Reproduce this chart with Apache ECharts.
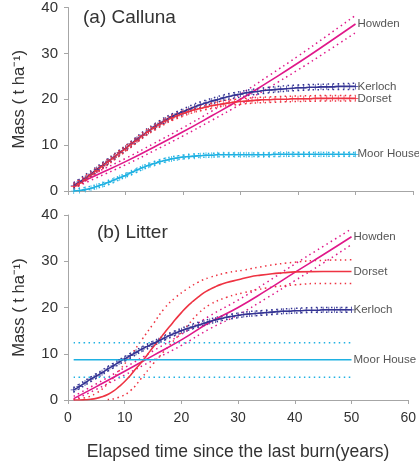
<!DOCTYPE html>
<html>
<head>
<meta charset="utf-8">
<script src="https://cdn.jsdelivr.net/npm/echarts@6/dist/echarts.min.js"></script>
<style>
  html, body { margin: 0; padding: 0; background: #fff; }
  #chart { width: 419px; height: 467px; }
</style>
</head>
<body>
<div id="chart"></div>
<script>
// 年份 (每年一個點, 用於有 + 標記的曲線)
const years = Array.from({ length: 50 }, (_, i) => i + 1);
// 稀疏年份 (信賴區間 / 直線)
const years5 = [1, 5, 10, 15, 20, 25, 30, 35, 40, 45, 50];

// ---- (a) Calluna ----
const callunaKerloch = [1.2, 2.0, 2.8, 3.7, 4.7, 5.6, 6.5, 7.4, 8.4, 9.3,
  10.3, 11.3, 12.2, 13.1, 14.0, 14.8, 15.5, 16.2, 16.8, 17.3,
  17.8, 18.3, 18.8, 19.2, 19.6, 19.9, 20.3, 20.6, 20.9, 21.1,
  21.4, 21.6, 21.7, 21.9, 22.0, 22.1, 22.2, 22.3, 22.4, 22.5,
  22.5, 22.6, 22.6, 22.7, 22.7, 22.7, 22.8, 22.8, 22.8, 22.8];
const callunaDorset = [1.0, 1.7, 2.6, 3.5, 4.5, 5.4, 6.4, 7.3, 8.3, 9.2,
  10.2, 11.1, 12.1, 13.0, 13.8, 14.6, 15.3, 15.9, 16.4, 16.9,
  17.3, 17.7, 18.0, 18.3, 18.6, 18.8, 19.0, 19.2, 19.4, 19.5,
  19.6, 19.7, 19.8, 19.9, 19.9, 20.0, 20.0, 20.0, 20.1, 20.1,
  20.1, 20.1, 20.2, 20.2, 20.2, 20.2, 20.2, 20.2, 20.2, 20.2];
const callunaMoor = [0.0, 0.1, 0.3, 0.6, 1.0, 1.4, 1.9, 2.4, 2.9, 3.4,
  4.0, 4.6, 5.1, 5.6, 6.0, 6.4, 6.7, 7.0, 7.2, 7.4,
  7.5, 7.6, 7.7, 7.8, 7.8, 7.9, 7.9, 7.9, 7.9, 7.9,
  7.9, 7.9, 7.9, 7.9, 7.9, 8.0, 8.0, 8.0, 8.0, 8.0,
  8.0, 8.0, 8.0, 8.0, 8.0, 8.0, 8.0, 8.0, 8.0, 8.0];
const callunaHowden = [1.2, 3.5, 6.4, 9.6, 12.9, 16.4, 20.0, 23.9, 27.9, 32.1, 36.4];
const callunaHowdenUp = [1.8, 4.1, 7.1, 10.4, 13.8, 17.4, 21.1, 25.2, 29.4, 33.8, 38.3];
const callunaHowdenLo = [0.6, 2.9, 5.7, 8.8, 12.0, 15.4, 18.9, 22.6, 26.4, 30.4, 34.5];
const callunaKerlochUp = [1.8, 5.3, 9.9, 14.6, 17.9, 20.2, 21.7, 22.6, 23.1, 23.3, 23.5];
const callunaKerlochLo = [0.6, 4.1, 8.7, 13.4, 16.7, 19.0, 20.5, 21.4, 21.9, 22.1, 22.1];
const callunaDorsetUp = [1.6, 5.1, 9.8, 14.4, 17.5, 19.2, 20.1, 20.5, 20.7, 20.8, 20.8];
const callunaDorsetLo = [0.4, 3.9, 8.6, 13.2, 16.3, 18.0, 18.9, 19.3, 19.5, 19.6, 19.6];
const callunaMoorUp = [0.4, 1.4, 3.8, 6.4, 7.8, 8.2, 8.3, 8.3, 8.4, 8.4, 8.4];
const callunaMoorLo = [0.0, 0.6, 3.0, 5.6, 7.0, 7.4, 7.5, 7.5, 7.6, 7.6, 7.6];

// ---- (b) Litter ----
const litterKerloch = [2.2, 2.9, 3.7, 4.5, 5.2, 5.9, 6.7, 7.4, 8.2, 8.9,
  9.6, 10.3, 11.0, 11.6, 12.2, 12.8, 13.4, 14.0, 14.5, 15.0,
  15.4, 15.8, 16.2, 16.6, 17.0, 17.3, 17.6, 17.9, 18.1, 18.3,
  18.5, 18.6, 18.7, 18.8, 18.9, 19.0, 19.1, 19.2, 19.2, 19.3,
  19.3, 19.4, 19.4, 19.4, 19.5, 19.5, 19.5, 19.5, 19.5, 19.5];
const litterKerlochUp = [2.7, 5.7, 9.4, 12.7, 15.5, 17.5, 18.8, 19.4, 19.8, 20.0, 20.0];
const litterKerlochLo = [1.7, 4.7, 8.4, 11.7, 14.5, 16.5, 17.8, 18.4, 18.8, 19.0, 19.0];
const litterHowden = [0.3, 2.9, 6.2, 9.6, 13.0, 16.8, 20.0, 23.7, 27.6, 31.4, 35.3];
const litterHowdenUp = [0.8, 3.5, 7.0, 10.6, 14.2, 18.2, 21.6, 25.4, 29.4, 33.2, 37.0];
const litterHowdenLo = [0.0, 2.3, 5.4, 8.6, 11.8, 15.4, 18.4, 22.0, 25.8, 29.6, 33.6];
const litterDorsetX = [1, 2, 3, 4, 5, 6, 7, 8, 9, 10, 11, 12, 13, 14, 15, 16, 17, 18, 19, 20,
  21, 22, 23, 24, 25, 26, 27, 28, 30, 32, 34, 36, 38, 40, 45, 50];
const litterDorset = [0.0, 0.0, 0.05, 0.15, 0.35, 0.7, 1.2, 1.9, 2.9, 4.0, 5.3, 6.8, 8.2, 9.8, 11.4,
  12.9, 14.5, 16.0, 17.5, 18.9, 20.2, 21.3, 22.3, 23.2, 23.9, 24.5, 25.0, 25.4,
  26.0, 26.6, 27.0, 27.3, 27.5, 27.7, 27.8, 27.8];
const litterDorsetUpX = [1, 3, 5, 7, 9, 11, 13, 15, 17, 19, 21, 23, 25, 28, 31, 35, 40, 45, 50];
const litterDorsetUp = [0.2, 0.5, 1.5, 3.5, 6.3, 9.5, 13.0, 16.4, 19.8, 22.2, 24.0, 25.5, 26.5,
  27.5, 28.1, 29.0, 29.8, 30.2, 30.3];
const litterDorsetLoX = [7, 9, 11, 13, 15, 17, 19, 21, 23, 25, 28, 31, 35, 40, 45, 50];
const litterDorsetLo = [0.1, 0.6, 2.0, 4.8, 7.8, 10.6, 13.3, 16.0, 18.7, 20.6, 22.2, 23.2, 24.2,
  24.9, 25.2, 25.2];
const litterMoorX = [1, 50];
const litterMoor = [8.7, 8.7];
const litterMoorUp = [12.4, 12.4];
const litterMoorLo = [4.9, 4.9];

const C_HOWDEN = '#e0188a';
const C_KERLOCH = '#343494';
const C_DORSET = '#ee3342';
const C_MOOR = '#1fb1e2';
const FONT = 'Liberation Sans';
const PLUS = 'path://M-0.12,-1 L0.12,-1 L0.12,-0.12 L1,-0.12 L1,0.12 L0.12,0.12 L0.12,1 L-0.12,1 L-0.12,0.12 L-1,0.12 L-1,-0.12 L-0.12,-0.12 Z';

function pairs(xs, ys) {
  return xs.map((x, i) => [x, ys[i]]);
}

// 主曲線 (含末端標籤)
function mainLine(idx, name, xs, ys, color, marks) {
  return {
    type: 'line', name: name, xAxisIndex: idx, yAxisIndex: idx,
    data: pairs(xs, ys), smooth: true, z: 4,
    showSymbol: !!marks, symbol: PLUS, symbolSize: 6,
    itemStyle: { color: color },
    lineStyle: { color: color, width: 1.6 },
    endLabel: {
      show: true, formatter: '{a}', color: '#555',
      fontFamily: FONT, fontSize: 11.5, distance: 2
    }
  };
}

// 信賴區間虛線
function ciLine(idx, xs, ys, color) {
  return {
    type: 'line', xAxisIndex: idx, yAxisIndex: idx,
    data: pairs(xs, ys), smooth: true, showSymbol: false, z: 3,
    lineStyle: { color: color, width: 1.5, type: [1.5, 3.5] }
  };
}

const axisGrey = '#a6a6a6';
function xAx(idx, labels) {
  return {
    gridIndex: idx, type: 'value', min: 0, max: 60, interval: 10,
    axisLine: { show: true, onZero: false, lineStyle: { color: axisGrey, width: 1 } },
    axisTick: { show: true, length: 4, lineStyle: { color: axisGrey } },
    splitLine: { show: false },
    axisLabel: { show: labels, color: '#333', fontFamily: FONT, fontSize: 14, margin: 11 },
    name: labels ? 'Elapsed time since the last burn(years)' : '',
    nameLocation: 'middle', nameGap: 43,
    nameTextStyle: { color: '#333', fontFamily: FONT, fontSize: 17.5 }
  };
}
function yAx(idx) {
  return {
    gridIndex: idx, type: 'value', min: 0, max: 40, interval: 10,
    axisLine: { show: true, lineStyle: { color: axisGrey, width: 1 } },
    axisTick: { show: true, length: 4, lineStyle: { color: axisGrey } },
    splitLine: { show: false },
    axisLabel: { color: '#333', fontFamily: FONT, fontSize: 15, margin: 10 },
    name: 'Mass ( t ha\u207B\u00B9)', nameLocation: 'middle', nameGap: 40,
    nameTextStyle: { color: '#333', fontFamily: FONT, fontSize: 16.5 }
  };
}

const chart = echarts.init(document.getElementById('chart'));
chart.setOption({
  animation: false,
  backgroundColor: '#fff',
  title: [
    { text: '(a) Calluna', left: 83, top: 8, padding: 0, textStyle: { color: '#333', fontFamily: FONT, fontSize: 19, fontWeight: 'normal' } },
    { text: '(b) Litter', left: 97, top: 223, padding: 0, textStyle: { color: '#333', fontFamily: FONT, fontSize: 19, fontWeight: 'normal' } }
  ],
  grid: [
    { left: 68, top: 5, width: 345, height: 186 },
    { left: 68, top: 215, width: 345, height: 185 }
  ],
  xAxis: [xAx(0, false), xAx(1, true)],
  yAxis: [yAx(0), yAx(1)],
  series: [
    // (a)
    ciLine(0, years5, callunaHowdenUp, C_HOWDEN),
    ciLine(0, years5, callunaHowdenLo, C_HOWDEN),
    ciLine(0, years5, callunaKerlochUp, C_KERLOCH),
    ciLine(0, years5, callunaKerlochLo, C_KERLOCH),
    ciLine(0, years5, callunaDorsetUp, C_DORSET),
    ciLine(0, years5, callunaDorsetLo, C_DORSET),
    ciLine(0, years5, callunaMoorUp, C_MOOR),
    ciLine(0, years5, callunaMoorLo, C_MOOR),
    mainLine(0, 'Howden', years5, callunaHowden, C_HOWDEN, false),
    mainLine(0, 'Kerloch', years, callunaKerloch, C_KERLOCH, true),
    mainLine(0, 'Dorset', years, callunaDorset, C_DORSET, true),
    mainLine(0, 'Moor House', years, callunaMoor, C_MOOR, true),
    // (b)
    ciLine(1, years5, litterHowdenUp, C_HOWDEN),
    ciLine(1, years5, litterHowdenLo, C_HOWDEN),
    ciLine(1, years5, litterKerlochUp, C_KERLOCH),
    ciLine(1, years5, litterKerlochLo, C_KERLOCH),
    ciLine(1, litterDorsetUpX, litterDorsetUp, C_DORSET),
    ciLine(1, litterDorsetLoX, litterDorsetLo, C_DORSET),
    ciLine(1, litterMoorX, litterMoorUp, C_MOOR),
    ciLine(1, litterMoorX, litterMoorLo, C_MOOR),
    mainLine(1, 'Howden', years5, litterHowden, C_HOWDEN, false),
    mainLine(1, 'Dorset', litterDorsetX, litterDorset, C_DORSET, false),
    mainLine(1, 'Kerloch', years, litterKerloch, C_KERLOCH, true),
    mainLine(1, 'Moor House', litterMoorX, litterMoor, C_MOOR, false)
  ]
});
</script>
</body>
</html>
